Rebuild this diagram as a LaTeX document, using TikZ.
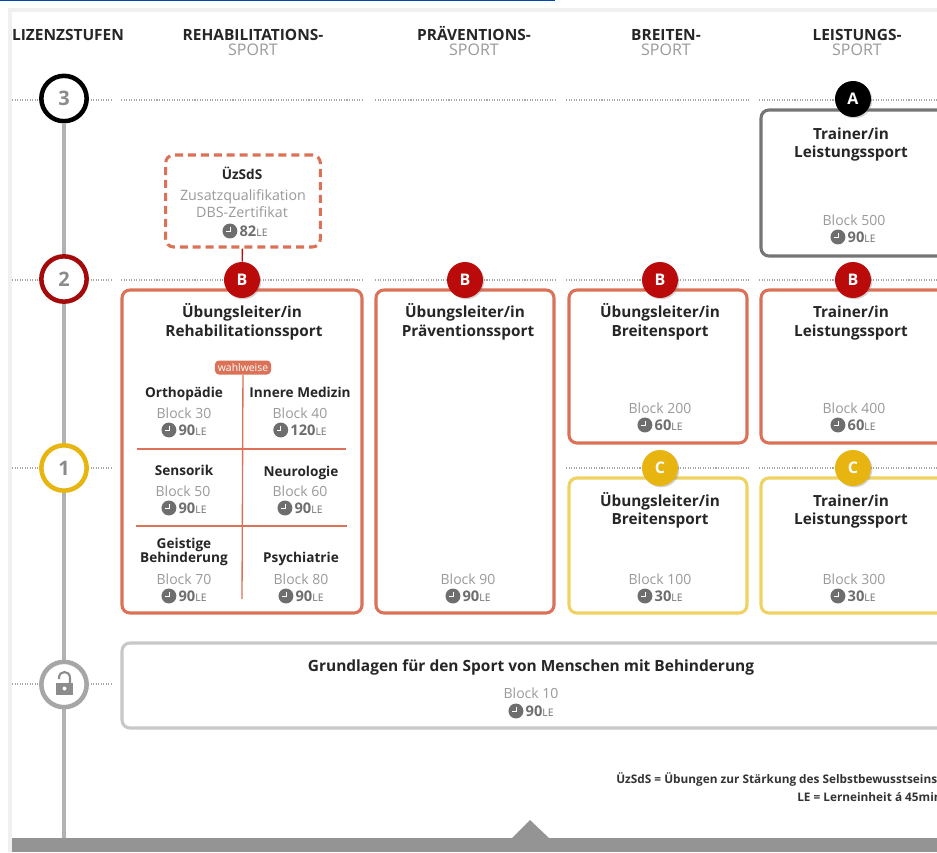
\documentclass[tikz,border=0pt]{standalone}
\usepackage{fontspec}
\setmainfont{Open Sans}
\usetikzlibrary{shadows}
\definecolor{orangeb}{HTML}{DB7257}
\definecolor{redb}{HTML}{BB0A0A}
\definecolor{redr}{HTML}{A50A0A}
\definecolor{yellowb}{HTML}{F0D261}
\definecolor{yellowc}{HTML}{E8B40F}
\definecolor{greyb}{HTML}{757575}
\definecolor{lightb}{HTML}{C8C8C8}
\definecolor{txtgrey}{HTML}{9A9A9A}
\definecolor{clockc}{HTML}{6E6E6E}
\newcommand{\fs}[1]{\fontsize{#1}{#1}\selectfont}
\newcommand{\clk}{\tikz[x=1pt,y=1pt,baseline=-4pt,line width=.6pt]{\fill[clockc] (0,0) circle (5.6pt);\draw[white] (0,2.8)--(0,0)--(-2.8,0);}}
\newcommand{\lehr}[1]{\clk\,{\fs{11}\bfseries\color{clockc}#1}{\fs{7.8}\color{clockc}LE}}
\tikzset{
 x=0.75pt,y=-0.75pt,
 box/.style={draw=#1,line width=2.3pt,rounded corners=6pt,fill=white},
 heada/.style={font=\fs{11.6}\bfseries,text=black!85,inner sep=0pt,anchor=center,text height=8.3pt,text depth=0pt},
 headb/.style={font=\fs{12},text=txtgrey,inner sep=0pt,anchor=center,text height=8.6pt,text depth=0pt},
 ttl/.style={font=\fs{11.5}\bfseries,text=black!85,align=center,inner sep=0pt,anchor=center,text height=8pt,text depth=2pt,yshift=-1pt},
 sub/.style={font=\fs{10.2}\bfseries,text=black!85,align=center,inner sep=0pt,anchor=center,text height=7.4pt,text depth=2pt},
 blk/.style={font=\fs{10.5},text=txtgrey,inner sep=0pt,anchor=center},
 hrs/.style={inner sep=0pt,anchor=center},
 lvl/.style={circle,draw=#1,line width=3.4pt,fill=white,minimum size=34pt,inner sep=0pt,font=\fs{15}\bfseries,text=txtgrey!90!black,drop shadow={shadow xshift=1.2pt,shadow yshift=-1.2pt,opacity=.35}},
 badge/.style={circle,fill=#1,minimum size=27pt,inner sep=0pt,font=\fs{12}\bfseries,text=white,drop shadow={shadow xshift=1pt,shadow yshift=-1pt,opacity=.35}},
 dots/.style={draw=black!35,line width=.8pt,dash pattern=on .8pt off 1.1pt},
 foot/.style={font=\fs{8.85}\bfseries,text=black!80,inner sep=0pt,anchor=west},
 div/.style={draw=orangeb,line width=1pt},
}
\begin{document}
\begin{tikzpicture}
\useasboundingbox (0,0) rectangle (937,852);
\clip (0,0) rectangle (937,852);
\fill[white] (0,0) rectangle (937,852);
% frame
\fill[black!6] (8,8) rectangle (937,12);
\fill[black!6] (8,8) rectangle (12,852);
\fill[blue!60!cyan!70!black] (0,0) rectangle (555,1);
% headers
\node[heada] (h0) at (68,35) {LIZENZSTUFEN};
\node[heada] (h1) at (253,35) {REHABILITATIONS-};
\node[headb] (h1b) at (253,49.5) {SPORT};
\node[heada] (h2) at (474,35) {PRÄVENTIONS-};
\node[headb] (h2b) at (474,49.5) {SPORT};
\node[heada] (h3) at (666,35) {BREITEN-};
\node[headb] (h3b) at (666,49.5) {SPORT};
\node[heada] (h4) at (857,35) {LEISTUNGS-};
\node[headb] (h4b) at (857,49.5) {SPORT};
% dotted level lines
\foreach \y in {100,280}{
 \draw[dots] (12,\y)--(111,\y);
 \draw[dots] (121,\y)--(363,\y);
 \draw[dots] (375,\y)--(555,\y);
 \draw[dots] (566,\y)--(749,\y);
 \draw[dots] (759,\y)--(937,\y);
}
\draw[dots] (12,468)--(111,468);
\draw[dots] (566,468)--(749,468);
\draw[dots] (759,468)--(937,468);
\draw[dots] (12,684)--(111,684);
% bottom bar
\fill[black!42] (12,838) rectangle (937,852);
\fill[black!42] (512,838)--(530,820)--(549,838)--cycle;
% level circles
\coordinate (lineend) at (64,838);
\node[lvl=black] (l3) at (64,98.5) {3};
\node[lvl=redr] (l2) at (64,279) {2};
\node[lvl=yellowc] (l1) at (64,468) {1};
\node[lvl=black!35] (l0) at (64,684.5) {};
\draw[black!30,line width=3pt] (l3)--(l2);
\draw[black!30,line width=3pt] (l2)--(l1);
\draw[black!30,line width=3pt] (l1)--(l0);
\draw[black!30,line width=3pt] (l0)--(lineend);
% padlock
\fill[black!45] (56,683) rectangle (73,695);
\draw[black!45,line width=1.6pt] (59,679) -- (59,678) .. controls (59,670) and (70,670) .. (70,678) -- (70,683);
\fill[white] (64.5,688.5) circle (2);
% boxes
\draw[box=orangeb] (122,290) rectangle (362,613);
\draw[box=orangeb] (376,290) rectangle (554,613);
\draw[box=orangeb] (569,290) rectangle (747,443);
\draw[box=orangeb] (761,290) rectangle (960,443);
\draw[box=yellowb] (569,478) rectangle (747,613);
\draw[box=yellowb] (761,478) rectangle (960,613);
\draw[box=greyb] (761,110) rectangle (960,256);
\draw[box=lightb,drop shadow={shadow xshift=0pt,shadow yshift=-.6pt,opacity=.2}] (122,643) rectangle (960,728);
\node[draw=orangeb,line width=2.3pt,dash pattern=on 6pt off 3.7pt,rounded corners=6pt,fill=white,minimum width=116pt,minimum height=69pt,inner sep=0pt] (uz) at (243,201) {};
% badges
\node[badge=redb] (b1) at (242,280) {B};
\draw[draw=redb,line width=1pt] (uz)--(b1);
\node[badge=redb] (b2) at (465,280) {B};
\node[badge=redb] (b3) at (660,280) {B};
\node[badge=redb] (b4) at (853,280) {B};
\node[badge=black] (a1) at (853,99) {A};
\node[badge=yellowc] (c1) at (660,468) {C};
\node[badge=yellowc] (c2) at (853,468) {C};
% UeZSdS
\node[sub] (u1) at (242,176) {ÜzSdS};
\node[blk,font=\fs{10.7}] (u2) at (243,197) {Zusatzqualifikation};
\node[blk,font=\fs{10.7}] (u3) at (242,212) {DBS-Zertifikat};
\node[hrs] (u4) at (245,231) {\lehr{82}};
% titles
\node[ttl] (t1) at (242,312) {Übungsleiter/in};
\node[ttl] (t1b) at (244,331) {Rehabilitationssport};
\node[ttl] (t2) at (465,312) {Übungsleiter/in};
\node[ttl] (t2b) at (468,331) {Präventionssport};
\node[ttl] (t3) at (660,312) {Übungsleiter/in};
\node[ttl] (t3b) at (660,331) {Breitensport};
\node[ttl] (t4) at (851,312) {Trainer/in};
\node[ttl] (t4b) at (851,331) {Leistungssport};
\node[ttl] (t5) at (851,134) {Trainer/in};
\node[ttl] (t5b) at (851,152) {Leistungssport};
\node[ttl] (t6) at (660,501) {Übungsleiter/in};
\node[ttl] (t6b) at (660,519) {Breitensport};
\node[ttl] (t7) at (851,501) {Trainer/in};
\node[ttl] (t7b) at (851,519) {Leistungssport};
\node[ttl,font=\fs{11.6}\bfseries] (t8) at (531,666) {Grundlagen für den Sport von Menschen mit Behinderung};
% blocks
\node[blk] (k1) at (854,220) {Block 500};
\node[hrs] (k1h) at (853,237) {\lehr{90}};
\node[blk] (k2) at (468,579) {Block 90};
\node[hrs] (k2h) at (468,596) {\lehr{90}};
\node[blk] (k3) at (660,408) {Block 200};
\node[hrs] (k3h) at (660,425) {\lehr{60}};
\node[blk] (k4) at (854,408) {Block 400};
\node[hrs] (k4h) at (853,425) {\lehr{60}};
\node[blk] (k5) at (660,579) {Block 100};
\node[hrs] (k5h) at (660,596) {\lehr{30}};
\node[blk] (k6) at (854,579) {Block 300};
\node[hrs] (k6h) at (853,596) {\lehr{30}};
\node[blk] (k7) at (531,693) {Block 10};
\node[hrs] (k7h) at (531,711) {\lehr{90}};
% Reha divisions
\coordinate (d1) at (137,449);
\coordinate (d2) at (346,449);
\coordinate (d3) at (136,526);
\coordinate (d4) at (347,526);
\coordinate (dv) at (242,599);
\draw[div] (d1)--(d2);
\draw[div] (d3)--(d4);
\node[fill=orangeb,text=white,rounded corners=3pt,font=\fs{7.8},inner xsep=2.2pt,inner ysep=0pt,minimum height=10.5pt] (w) at (243,367.5) {wahlweise};
\draw[div] (w)--(dv);
% Reha cells
\node[sub] (o1) at (184,394) {Orthopädie};
\node[blk] (o2) at (184,413) {Block 30};
\node[hrs] (o3) at (184,430) {\lehr{90}};
\node[sub] (i1) at (300,394) {Innere Medizin};
\node[blk] (i2) at (300,413) {Block 40};
\node[hrs] (i3) at (300,430) {\lehr{120}};
\node[sub] (s1) at (184,472) {Sensorik};
\node[blk] (s2) at (183,491) {Block 50};
\node[hrs] (s3) at (184,508) {\lehr{90}};
\node[sub] (n1) at (301,473) {Neurologie};
\node[blk] (n2) at (300,491) {Block 60};
\node[hrs] (n3) at (300,508) {\lehr{90}};
\node[sub] (g1) at (184,545) {Geistige};
\node[sub] (g1b) at (184,559) {Behinderung};
\node[blk] (g2) at (184,579) {Block 70};
\node[hrs] (g3) at (184,596) {\lehr{90}};
\node[sub] (p1) at (301,559) {Psychiatrie};
\node[blk] (p2) at (301,579) {Block 80};
\node[hrs] (p3) at (301,596) {\lehr{90}};
% footnotes
\node[foot] (f1) at (616,779) {ÜzSdS = Übungen zur Stärkung des Selbstbewusstseins};
\node[foot] (f2) at (797,797) {LE = Lerneinheit á 45min};
\end{tikzpicture}
\end{document}
